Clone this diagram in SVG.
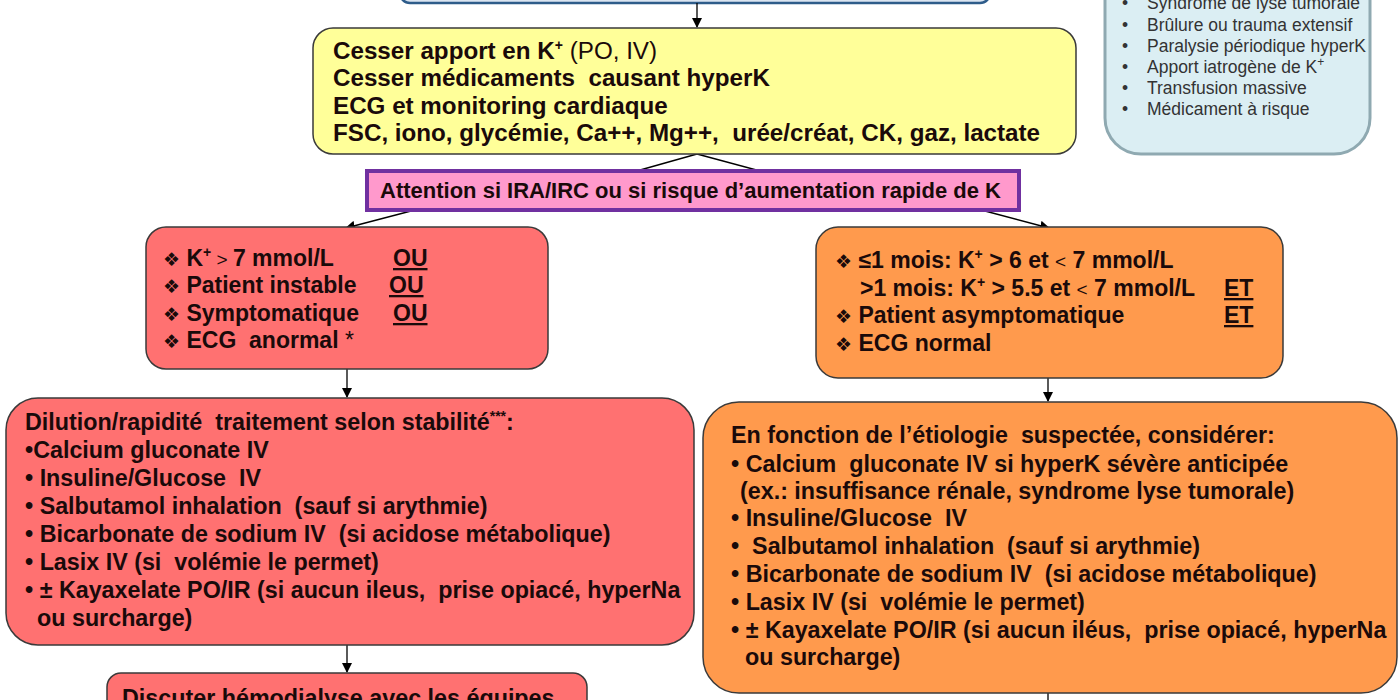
<svg xmlns="http://www.w3.org/2000/svg" width="1400" height="700" viewBox="0 0 1400 700">
<defs>
<marker id="ah" markerWidth="10" markerHeight="10" refX="9" refY="5" orient="auto" markerUnits="userSpaceOnUse">
<path d="M0,0 L10,5 L0,10 z" fill="#000"/>
</marker>
<style>
text{white-space:pre;}
.b{font-family:"Liberation Sans",Arial,"DejaVu Sans",sans-serif;font-weight:bold;fill:#1a0a0a;}
.r{font-family:"Liberation Sans",Arial,"DejaVu Sans",sans-serif;fill:#333;}
.n{font-weight:normal;}
.sym{font-family:"DejaVu Sans",sans-serif;font-weight:normal;font-size:19px;}
.box{stroke:#3a3a3a;stroke-width:1.5;}
.conn{stroke:#000;stroke-width:1.3;fill:none;}
.u{text-decoration:underline;}
</style>
</defs>
<rect width="1400" height="700" fill="#fff"/>

<g id="top-box">
<rect x="400" y="-40" width="590" height="43" rx="10" fill="#dbe5f1" stroke="#2e5c8a" stroke-width="2.5"/>
</g>

<g id="risk-box">
<rect x="1105" y="-40" width="265" height="194" rx="36" fill="#dbeef3" stroke="#8fa9b1" stroke-width="3"/>
<g class="r" font-size="17.5">
<text x="1122" y="9">•</text><text x="1147" y="9">Syndrome de lyse tumorale</text>
<text x="1122" y="31">•</text><text x="1147" y="31">Brûlure ou trauma extensif</text>
<text x="1122" y="52">•</text><text x="1147" y="52">Paralysie périodique hyperK</text>
<text x="1122" y="73">•</text><text x="1147" y="73">Apport iatrogène de K<tspan font-size="12" dy="-7">+</tspan></text>
<text x="1122" y="94">•</text><text x="1147" y="94">Transfusion massive</text>
<text x="1122" y="115">•</text><text x="1147" y="115">Médicament à risque</text>
</g>
</g>

<g id="connectors">
<line class="conn" x1="697" y1="3" x2="697" y2="27" marker-end="url(#ah)"/>
<line class="conn" x1="697" y1="154" x2="633" y2="172"/>
<line class="conn" x1="697" y1="154" x2="764" y2="172"/>
<line class="conn" x1="411" y1="211" x2="346" y2="228" marker-end="url(#ah)"/>
<line class="conn" x1="985" y1="211" x2="1049" y2="228" marker-end="url(#ah)"/>
<line class="conn" x1="347" y1="369" x2="347" y2="397" marker-end="url(#ah)"/>
<line class="conn" x1="1048" y1="378" x2="1048" y2="401" marker-end="url(#ah)"/>
<line class="conn" x1="347" y1="645" x2="347" y2="672" marker-end="url(#ah)"/>
<line class="conn" x1="1048" y1="693" x2="1048" y2="702"/>
</g>

<g id="initial-actions">
<rect class="box" x="313" y="28" width="763" height="126" rx="20" fill="#ffff99"/>
<g class="b" font-size="24.2">
<text x="333" y="59">Cesser apport en K<tspan font-size="14" dy="-9">+</tspan><tspan class="n" dy="9"> (PO, IV)</tspan></text>
<text x="333" y="86">Cesser médicaments  causant hyperK</text>
<text x="333" y="114">ECG et monitoring cardiaque</text>
<text x="333" y="141">FSC, iono, glycémie, Ca++, Mg++,  urée/créat, CK, gaz, lactate</text>
</g>
</g>

<g id="attention">
<rect x="367" y="171" width="652" height="39" fill="#ff99cc" stroke="#7030a0" stroke-width="4"/>
<text class="b" x="380" y="198" font-size="22">Attention si IRA/IRC ou si risque d’aumentation rapide de K</text>
</g>

<g id="severe-criteria">
<rect class="box" x="146" y="227" width="402" height="142" rx="20" fill="#ff7171"/>
<g class="b" font-size="23">
<text x="163" y="266"><tspan class="sym">❖</tspan> K<tspan font-size="14" dy="-9">+</tspan><tspan class="n" font-size="19" dy="9"> &gt; </tspan>7 mmol/L</text>
<text class="u" x="393" y="266">OU</text>
<text x="163" y="293"><tspan class="sym">❖</tspan> Patient instable</text>
<text class="u" x="389" y="293">OU</text>
<text x="163" y="321"><tspan class="sym">❖</tspan> Symptomatique</text>
<text class="u" x="393" y="321">OU</text>
<text x="163" y="348"><tspan class="sym">❖</tspan> ECG  anormal <tspan class="n">*</tspan></text>
</g>
</g>

<g id="moderate-criteria">
<rect class="box" x="816" y="227" width="467" height="151" rx="22" fill="#ff9a4d"/>
<g class="b" font-size="23">
<text x="835" y="268"><tspan class="sym">❖</tspan> ≤1 mois: K<tspan font-size="14" dy="-9">+</tspan><tspan dy="9"> &gt; 6 et </tspan><tspan class="n" font-size="19">&lt;</tspan> 7 mmol/L</text>
<text x="860" y="296">&gt;1 mois: K<tspan font-size="14" dy="-9">+</tspan><tspan dy="9"> &gt; 5.5 et </tspan><tspan class="n" font-size="19">&lt;</tspan> 7 mmol/L</text>
<text class="u" x="1224" y="296">ET</text>
<text x="835" y="323"><tspan class="sym">❖</tspan> Patient asymptomatique</text>
<text class="u" x="1224" y="323">ET</text>
<text x="835" y="351"><tspan class="sym">❖</tspan> ECG normal</text>
</g>
</g>

<g id="severe-treatment">
<rect class="box" x="6" y="398" width="688" height="247" rx="32" fill="#ff7171"/>
<g class="b" font-size="23.3">
<text x="25" y="430">Dilution/rapidité  traitement selon stabilité<tspan font-size="14" dy="-9">***</tspan><tspan dy="9">:</tspan></text>
<text x="25" y="458">•Calcium gluconate IV</text>
<text x="25" y="486">• Insuline/Glucose  IV</text>
<text x="25" y="514">• Salbutamol inhalation  (sauf si arythmie)</text>
<text x="25" y="542">• Bicarbonate de sodium IV  (si acidose métabolique)</text>
<text x="25" y="570">• Lasix IV (si  volémie le permet)</text>
<text x="25" y="598">• ± Kayaxelate PO/IR (si aucun ileus,  prise opiacé, hyperNa</text>
<text x="37" y="626">ou surcharge)</text>
</g>
</g>

<g id="dialysis">
<rect class="box" x="107" y="673" width="480" height="60" rx="14" fill="#ff7171"/>
<text class="b" x="122" y="706" font-size="23.3">Discuter hémodialyse avec les équipes</text>
</g>

<g id="moderate-treatment">
<rect class="box" x="703" y="402" width="694" height="291" rx="36" fill="#ff9a4d"/>
<g class="b" font-size="23.3">
<text x="731" y="443">En fonction de l’étiologie  suspectée, considérer:</text>
<text x="731" y="472">• Calcium  gluconate IV si hyperK sévère anticipée</text>
<text x="740" y="499">(ex.: insuffisance rénale, syndrome lyse tumorale)</text>
<text x="731" y="526">• Insuline/Glucose  IV</text>
<text x="731" y="554">•  Salbutamol inhalation  (sauf si arythmie)</text>
<text x="731" y="582">• Bicarbonate de sodium IV  (si acidose métabolique)</text>
<text x="731" y="610">• Lasix IV (si  volémie le permet)</text>
<text x="731" y="638">• ± Kayaxelate PO/IR (si aucun iléus,  prise opiacé, hyperNa</text>
<text x="745" y="665">ou surcharge)</text>
</g>
</g>
</svg>
